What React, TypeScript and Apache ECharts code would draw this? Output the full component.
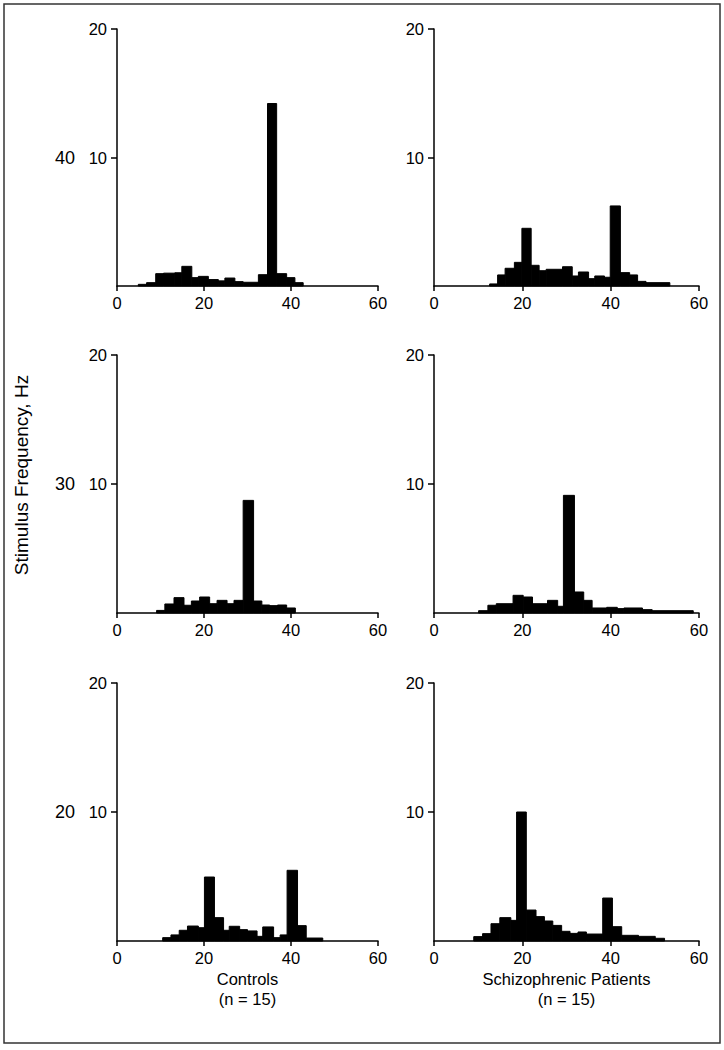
import React, { useEffect, useRef } from "react";
import * as echarts from "echarts";

// ---- data ----
const xTicks = [0, 20, 40, 60];
const yTicks = [10, 20];
const stimulusRows = ["40", "30", "20"];
const groupNames = ["Controls\n(n = 15)", "Schizophrenic Patients\n(n = 15)"];
const yTitle = "Stimulus Frequency, Hz";

// Controls, 40 Hz stimulus
const ctl40Edges = [4.9, 6.8, 8.9, 10.7, 13.3, 14.9, 17.2, 18.7, 21.0, 23.3, 24.8, 27.1, 29.0, 32.5, 34.6, 36.7, 39.0, 40.9, 42.8];
const ctl40Heights = [0.13, 0.26, 0.96, 1.0, 1.03, 1.53, 0.65, 0.75, 0.5, 0.4, 0.62, 0.34, 0.29, 0.88, 14.2, 0.96, 0.65, 0.26];
// Schizophrenic, 40 Hz stimulus
const sch40Edges = [12.6, 14.4, 16.1, 18.2, 19.9, 22.0, 23.8, 25.4, 29.1, 31.3, 32.7, 35.0, 36.4, 38.6, 39.9, 42.2, 44.3, 46.1, 48.0, 53.4];
const sch40Heights = [0.16, 0.86, 1.38, 1.84, 4.49, 1.61, 1.19, 1.3, 1.5, 0.78, 1.09, 0.57, 0.78, 0.68, 6.23, 1.04, 0.86, 0.36, 0.26];
// Controls, 30 Hz stimulus
const ctl30Edges = [9.1, 11.0, 13.1, 15.4, 17.1, 19.0, 21.3, 23.0, 25.3, 26.9, 29.0, 31.4, 33.3, 35.1, 36.9, 39.0, 41.0];
const ctl30Heights = [0.2, 0.7, 1.19, 0.6, 0.93, 1.24, 0.72, 0.98, 0.72, 0.98, 8.73, 0.93, 0.62, 0.57, 0.62, 0.39];
// Schizophrenic, 30 Hz stimulus
const sch30Edges = [10.1, 12.2, 14.1, 17.9, 20.2, 22.3, 25.7, 28.0, 29.3, 31.8, 33.9, 35.8, 39.1, 41.5, 43.0, 47.2, 49.4, 58.7];
const sch30Heights = [0.18, 0.6, 0.72, 1.37, 1.24, 0.72, 0.98, 0.52, 9.12, 1.63, 0.98, 0.39, 0.44, 0.34, 0.39, 0.26, 0.18];
// Controls, 20 Hz stimulus
const ctl20Edges = [10.5, 12.4, 14.3, 16.2, 18.7, 20.1, 22.4, 24.5, 25.8, 28.2, 30.0, 32.2, 33.5, 36.0, 37.5, 39.1, 41.5, 43.5, 47.3];
const ctl20Heights = [0.26, 0.47, 0.83, 1.16, 1.03, 4.96, 1.81, 0.83, 1.14, 0.88, 0.78, 0.36, 1.09, 0.26, 0.47, 5.48, 1.19, 0.23];
// Schizophrenic, 20 Hz stimulus
const sch20Edges = [9.0, 11.0, 12.9, 14.9, 17.4, 18.7, 20.9, 23.1, 25.0, 26.9, 28.9, 30.8, 32.6, 34.5, 38.2, 40.4, 42.5, 46.3, 50.1, 52.2];
const sch20Heights = [0.34, 0.57, 1.34, 1.81, 1.6, 10.0, 2.4, 1.89, 1.55, 1.21, 0.75, 0.59, 0.7, 0.54, 3.33, 1.11, 0.44, 0.36, 0.21];

const panels = [
  { edges: ctl40Edges, heights: ctl40Heights },
  { edges: sch40Edges, heights: sch40Heights },
  { edges: ctl30Edges, heights: ctl30Heights },
  { edges: sch30Edges, heights: sch30Heights },
  { edges: ctl20Edges, heights: ctl20Heights },
  { edges: sch20Edges, heights: sch20Heights },
];

const FONT = "'Liberation Sans', Arial, sans-serif";

export default function App() {
  const ref = useRef<HTMLDivElement>(null);

  useEffect(() => {
    if (!ref.current) return;
    const chart = echarts.init(ref.current, undefined, { renderer: "svg" });

    const colLeft = [117, 434];
    const colWidth = [261, 265];
    const rowTop = [29, 355, 683];
    const rowHeight = [257, 258, 258];

    const grids: any[] = [];
    const xAxes: any[] = [];
    const yAxes: any[] = [];
    const series: any[] = [];

    panels.forEach((p, i) => {
      const r = Math.floor(i / 2);
      const c = i % 2;
      grids.push({ left: colLeft[c], top: rowTop[r], width: colWidth[c], height: rowHeight[r] });
      xAxes.push({
        gridIndex: i,
        type: "value",
        min: 0,
        max: 60,
        interval: 20,
        axisLine: { show: true, onZero: false, lineStyle: { color: "#000", width: 1.5 } },
        axisTick: { show: true, length: 5, lineStyle: { color: "#000", width: 1.5 }, customValues: xTicks },
        axisLabel: { color: "#000", fontSize: 16.5, fontFamily: FONT, margin: 8, customValues: xTicks },
        splitLine: { show: false },
        name: r === 2 ? groupNames[c] : "",
        nameLocation: "middle",
        nameGap: 28,
        nameTextStyle: { color: "#000", fontSize: 16.5, fontFamily: FONT, lineHeight: 20, verticalAlign: "top" },
      });
      yAxes.push({
        gridIndex: i,
        type: "value",
        min: 0,
        max: 20,
        interval: 10,
        axisLine: { show: true, onZero: false, lineStyle: { color: "#000", width: 1.5 } },
        axisTick: { show: true, length: 6, lineStyle: { color: "#000", width: 1.5 }, customValues: yTicks },
        axisLabel: { color: "#000", fontSize: 16.5, fontFamily: FONT, margin: 10, customValues: yTicks },
        splitLine: { show: false },
        name: c === 0 ? stimulusRows[r] : "",
        nameLocation: "middle",
        nameGap: 42,
        nameRotate: 0,
        nameTextStyle: { color: "#000", fontSize: 18, fontFamily: FONT, padding: [0, 0, 8, 0] },
      });
      const data = p.heights.map((h, k) => [p.edges[k], p.edges[k + 1], h]);
      series.push({
        type: "custom",
        xAxisIndex: i,
        yAxisIndex: i,
        data,
        encode: { x: [0, 1], y: 2 },
        renderItem: (params: any, api: any) => {
          const x0 = api.value(0);
          const x1 = api.value(1);
          const h = api.value(2);
          const p0 = api.coord([x0, h]);
          const p1 = api.coord([x1, 0]);
          return {
            type: "rect",
            shape: { x: p0[0], y: p0[1], width: p1[0] - p0[0], height: p1[1] - p0[1] },
            style: { fill: "#000", stroke: "#000", lineWidth: 1 },
          };
        },
      });
    });

    chart.setOption({
      animation: false,
      backgroundColor: "#fff",
      grid: grids,
      xAxis: xAxes,
      yAxis: yAxes,
      series,
      graphic: [
        {
          type: "rect",
          shape: { x: 4, y: 4, width: 716, height: 1039 },
          style: { fill: "none", stroke: "#333", lineWidth: 1.5 },
          silent: true,
        },
        {
          type: "text",
          x: 21,
          y: 475,
          rotation: Math.PI / 2,
          style: {
            text: yTitle,
            fill: "#000",
            fontSize: 19,
            fontFamily: FONT,
            align: "center",
            verticalAlign: "middle",
          },
        },
      ],
    });

    return () => chart.dispose();
  }, []);

  return (
    <div
      ref={ref}
      style={{ position: "absolute", left: 0, top: 0, width: 724, height: 1050, background: "#fff" }}
    />
  );
}
